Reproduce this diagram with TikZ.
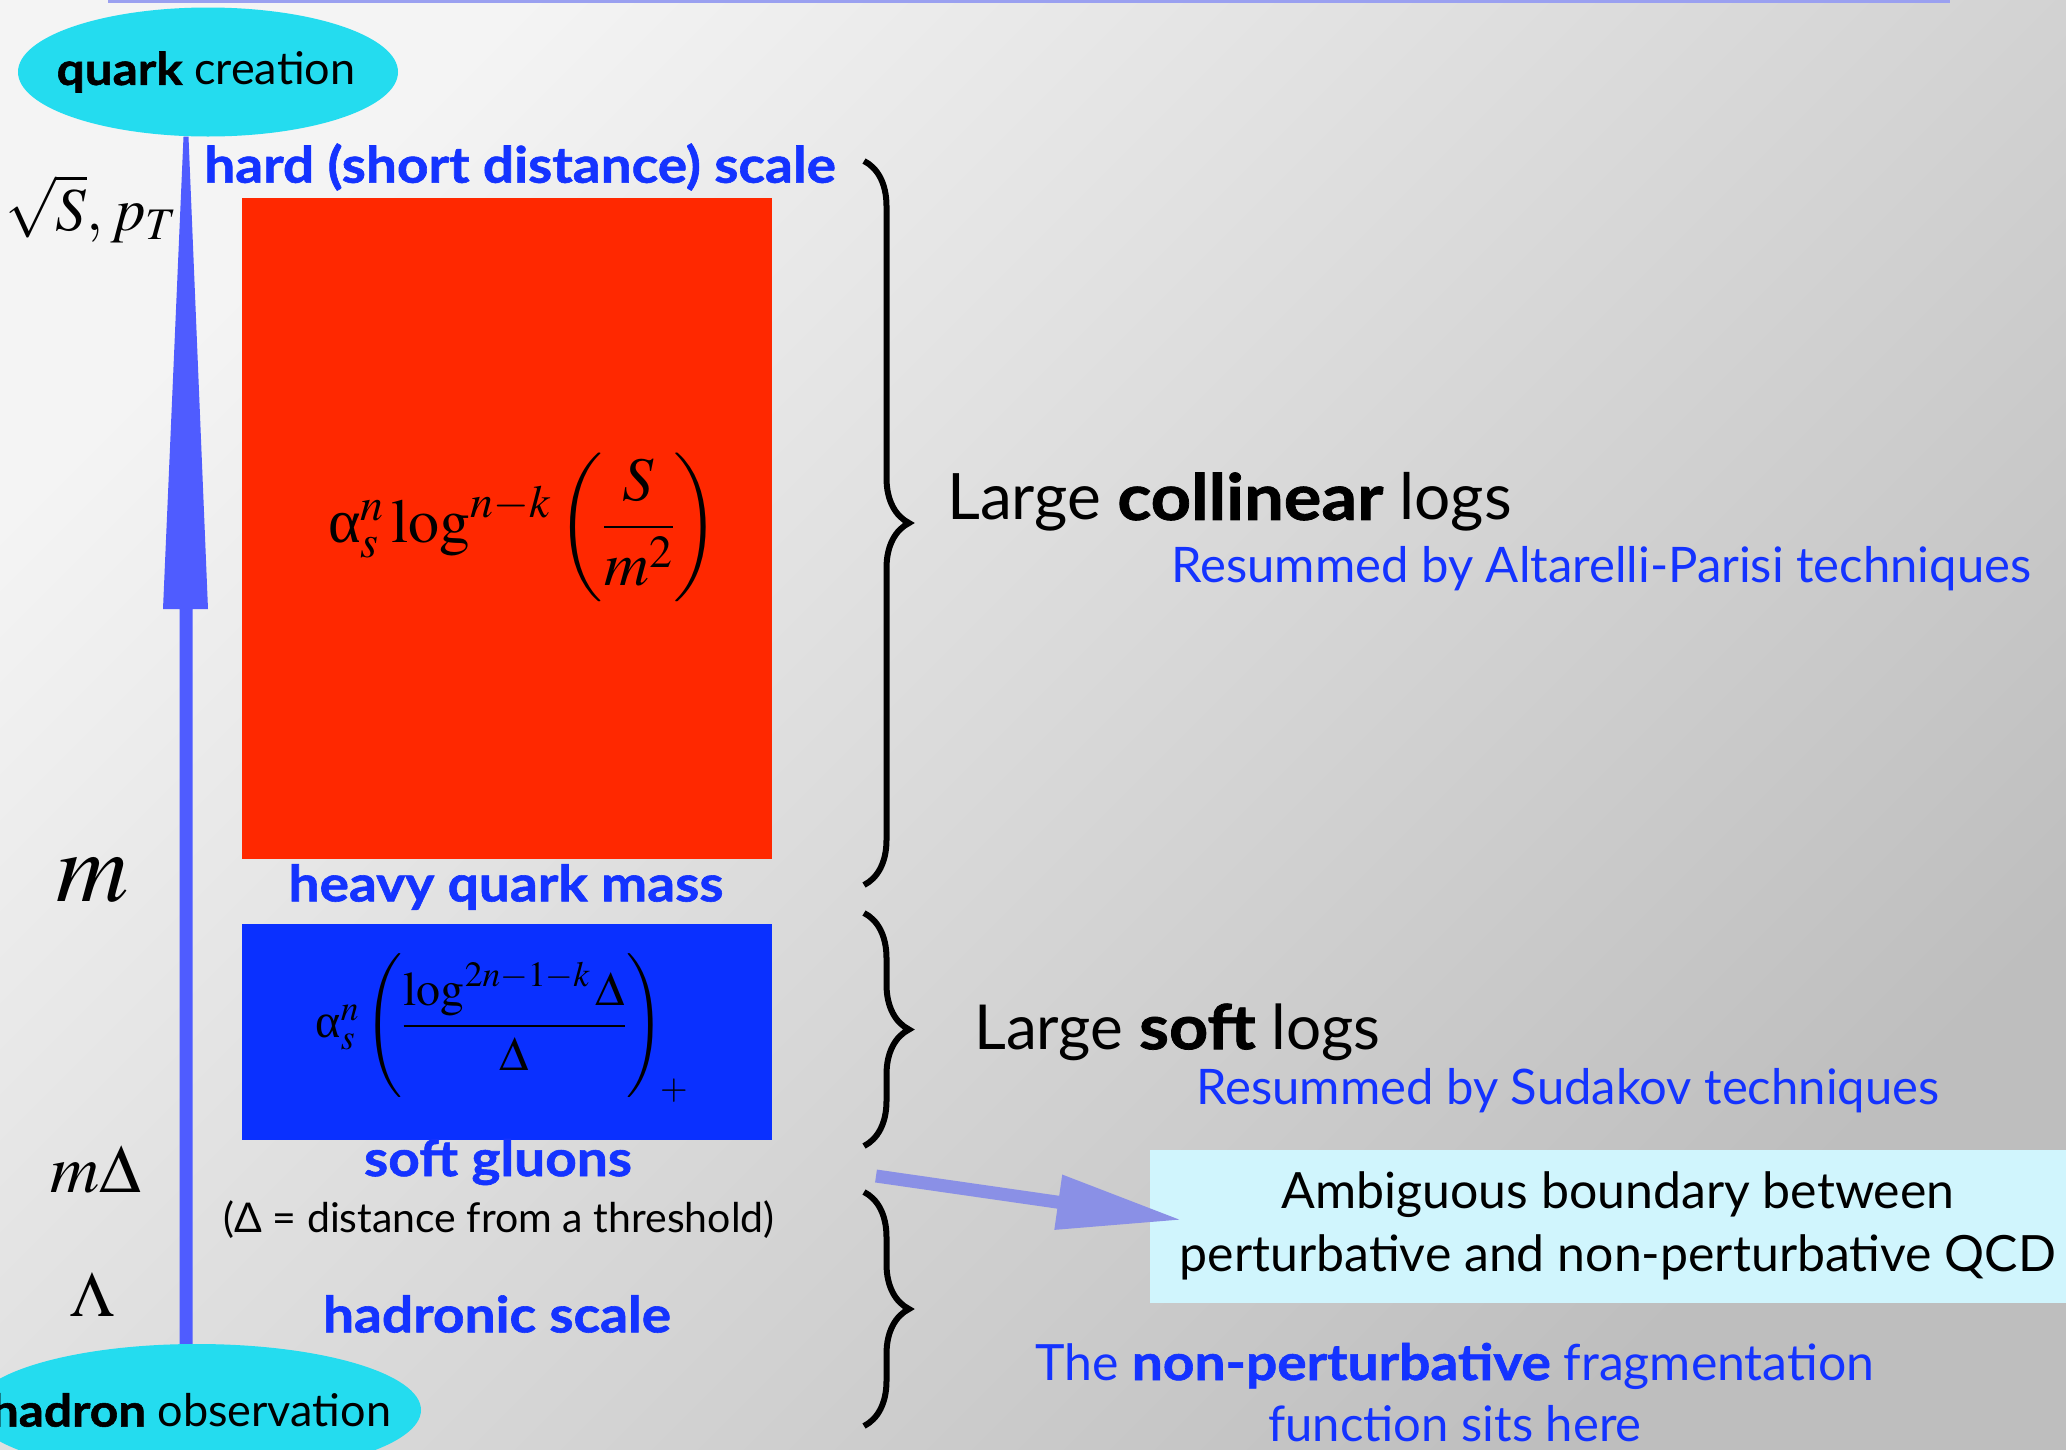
\documentclass[tikz,border=0pt]{standalone}
\usepackage{mathptmx}
\usepackage[no-math]{fontspec}
\setmainfont{Lato}[BoldFeatures={FakeStretch=1.1,FakeBold=1.2}]
\newfontfamily\tnr{Liberation Serif}
\usetikzlibrary{arrows.meta,decorations.pathreplacing,shapes.geometric,calc}
\definecolor{bgLight}{HTML}{F4F4F4}
\definecolor{bgDark}{HTML}{BEBEBE}
\definecolor{cyanEl}{HTML}{24DCEF}
\definecolor{arrBlue}{HTML}{4F5CFF}
\definecolor{hardRed}{HTML}{FF2800}
\definecolor{softBlue}{HTML}{0A30FF}
\definecolor{lblBlue}{HTML}{1433FF}
\definecolor{ambBox}{HTML}{D0F5FD}
\definecolor{ptrCol}{HTML}{8A90E6}
\definecolor{topLine}{HTML}{9AA0F0}
\newcommand{\ualpha}{\mbox{\tnr α}}
\begin{document}
\begin{tikzpicture}[x=1pt,y=-1pt,
  lbl/.style={text=lblBlue, font=\fontsize{50}{58}\selectfont\bfseries, inner sep=0},
  rtxt/.style={font=\fontsize{49}{57}\selectfont, inner sep=0, anchor=west},
  big/.style={font=\fontsize{64}{75}\selectfont, inner sep=0, anchor=west},
  bluetxt/.style={text=lblBlue},
  sym/.style={inner sep=0},
  brc/.style={decorate, decoration={brace, amplitude=45pt}, line width=6pt},
  blob/.style={ellipse, fill=cyanEl, inner sep=0},
  blobtxt/.style={inner sep=0, font=\fontsize{45}{54}\selectfont}]
\useasboundingbox (0,0) rectangle (2066,1449);
\clip (0,0) rectangle (2066,1449);
\shade[shading=axis, top color=bgLight, bottom color=bgDark, shading angle=45] (0,0) rectangle (2066,1449);
\draw[topLine, line width=3pt] (108,1) -- (1950,1);

% ellipses
\node[blob, minimum width=380, minimum height=129] (quark) at (208,72) {};
\node[blobtxt] (quarkT) at (206,72) {\textbf{quark} creation};
\node[blob, minimum width=448, minimum height=132] (hadron) at (197,1410) {};
\node[blobtxt] (hadronT) at (191,1410) {\textbf{hadron} observation};

% main arrow (shaft + long head)
\coordinate (abot) at (hadron.north -| 186,0);
\coordinate (atop) at (quark.south -| 186,0);
\coordinate (ahb) at (186,609);
\fill[arrBlue] ($(atop)+(-2.5,0)$) -- ($(atop)+(2.5,0)$) -- ($(ahb)+(22,0)$) -- ($(ahb)+(6.5,0)$)
  -- ($(abot)+(6.5,0)$) -- ($(abot)+(-6.5,0)$) -- ($(ahb)+(-6.5,0)$) -- ($(ahb)+(-23,0)$) -- cycle;

% scale labels
\node[sym, font=\fontsize{61}{70}\selectfont] (sqs) at (91,209) {$\sqrt{S},p_T$};
\node[sym, font=\fontsize{100}{110}\selectfont] (mm) at (93,880) {$m$};
\node[sym, font=\fontsize{68}{80}\selectfont] (md) at (96,1170) {$m\Delta$};
\node[sym, font=\fontsize{64}{76}\selectfont] (lam) at (92,1295) {$\Lambda$};

% boxes
\node[lbl] (hard) at (520,167) {hard (short distance) scale};
\node[fill=hardRed, minimum width=530, minimum height=661, inner sep=0] (redbox) at (507,528.5) {};
\node[sym, font=\fontsize{62}{72}\selectfont] (fcol) at (524,527) {$\ualpha_s^n\log^{n-k}\left(\displaystyle\frac{S}{m^2}\right)$};
\node[lbl] (heavy) at (506,887) {heavy quark mass};
\node[fill=softBlue, minimum width=530, minimum height=216, inner sep=0] (bluebox) at (507,1032) {};
\node[sym, font=\fontsize{48}{58}\selectfont] (fsoft) at (502,1028) {$\ualpha_s^n\left(\displaystyle\frac{\log^{2n-1-k}\Delta}{\Delta}\right)_{\!+}$};
\node[lbl] (soft) at (498,1162) {soft gluons};
\node[sym, font=\fontsize{41}{48}\selectfont] (dnote) at (499,1220) {(Δ = distance from a threshold)};
\node[lbl] (hadsc) at (497,1314) {hadronic scale};

% braces
\coordinate (b1t) at (864,161); \coordinate (b1b) at (864,885);
\coordinate (b2t) at (864,913); \coordinate (b2b) at (864,1146);
\coordinate (b3t) at (864,1192); \coordinate (b3b) at (864,1426);
\draw[brc] (b1t) -- (b1b);
\draw[brc] (b2t) -- (b2b);
\draw[brc] (b3t) -- (b3b);

% right texts
\node[big] (coll) at (947,502) {Large \textbf{collinear} logs};
\node[rtxt, bluetxt] (ap) at (1171,569) {Resummed by Altarelli-Parisi techniques};
\node[big, font=\fontsize{62}{72}\selectfont] (softl) at (974,1032) {Large \textbf{soft} logs};
\node[rtxt, bluetxt] (sud) at (1196,1091) {Resummed by Sudakov techniques};

% ambiguous box
\node[fill=ambBox, minimum width=916, minimum height=153, inner sep=0] (amb) at (1608,1226.5) {};
\node[sym, font=\fontsize{50}{58}\selectfont] (amb1) at (1618,1195) {Ambiguous boundary between};
\node[sym, font=\fontsize{50}{58}\selectfont] (amb2) at (1618,1257) {perturbative and non-perturbative QCD};

% pointer arrow
\coordinate (ptail) at (876,1176);
\coordinate (ptip) at (1182,1220);
\draw[ptrCol, line width=13pt, -{Triangle[length=125pt, width=52pt]}] (ptail) -- (ptip);

% non-perturbative
\node[sym, text=lblBlue, font=\fontsize{50}{58}\selectfont] (np1) at (1455,1366) {The \textbf{non-perturbative} fragmentation};
\node[sym, text=lblBlue, font=\fontsize{49}{57}\selectfont] (np2) at (1455,1424) {function sits here};
\end{tikzpicture}
\end{document}
